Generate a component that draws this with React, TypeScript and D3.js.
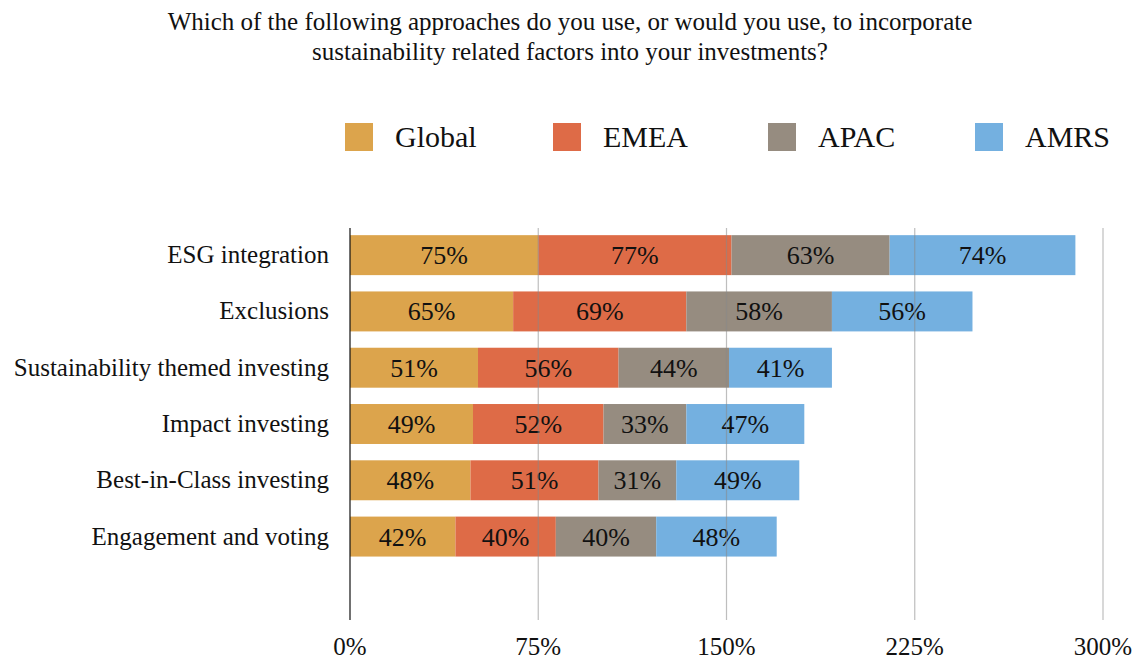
import React from "react";
import * as d3 from "d3";

const categories = [
  "ESG integration",
  "Exclusions",
  "Sustainability themed investing",
  "Impact investing",
  "Best-in-Class investing",
  "Engagement and voting",
];
const seriesNames = ["Global", "EMEA", "APAC", "AMRS"];
const globalVals = [75, 65, 51, 49, 48, 42];
const emeaVals = [77, 69, 56, 52, 51, 40];
const apacVals = [63, 58, 44, 33, 31, 40];
const amrsVals = [74, 56, 41, 47, 49, 48];
const colors = ["#DCA44C", "#DE6B47", "#968C80", "#74B0E0"];
const xTicks = [0, 75, 150, 225, 300];

const W = 1139;
const H = 659;
const FONT = "Liberation Serif, Times New Roman, serif";

export default function App() {
  const series = [globalVals, emeaVals, apacVals, amrsVals];
  const rows = categories.map((c, i) => {
    const r: any = { cat: c };
    seriesNames.forEach((s, k) => (r[s] = series[k][i]));
    return r;
  });
  const stack = d3.stack<any>().keys(seriesNames)(rows);

  const x = d3.scaleLinear().domain([0, 300]).range([350, 1103]);
  const slots = [...categories, "__empty"];
  const y = d3.scaleBand().domain(slots).range([227, 621]).paddingInner(0.29).paddingOuter(0.145);

  const top = 228;
  const bottom = 620;

  const legendX = [345, 553, 768, 975];

  return (
    <svg width={W} height={H} style={{ position: "absolute", left: 0, top: 0, background: "#fff", fontFamily: FONT }}>
      <rect width={W} height={H} fill="#fff" />
      <text x={570} y={30} textAnchor="middle" fontSize={25} fill="#111">
        Which of the following approaches do you use, or would you use, to incorporate
      </text>
      <text x={570} y={60} textAnchor="middle" fontSize={25} fill="#111">
        sustainability related factors into your investments?
      </text>

      {seriesNames.map((s, k) => (
        <g key={s}>
          <rect x={legendX[k]} y={123} width={28} height={28} fill={colors[k]} />
          <text x={legendX[k] + 50} y={147} fontSize={30} fill="#111">
            {s}
          </text>
        </g>
      ))}

      {stack.map((layer, k) => (
        <g key={layer.key}>
          {layer.map((d, i) => {
            const x0 = x(d[0]);
            const x1 = x(d[1]);
            const yy = y(categories[i])!;
            const bh = y.bandwidth();
            return (
              <g key={i}>
                <rect x={x0} y={yy} width={x1 - x0} height={bh} fill={colors[k]} />
                <text
                  x={(x0 + x1) / 2}
                  y={yy + bh / 2 + 9}
                  textAnchor="middle"
                  fontSize={26}
                  fill="#111"
                >
                  {series[k][i]}%
                </text>
              </g>
            );
          })}
        </g>
      ))}

      {xTicks.slice(1).map((t) => (
        <line key={t} x1={x(t)} x2={x(t)} y1={top} y2={bottom} stroke="#888" strokeOpacity={0.55} strokeWidth={1.2} />
      ))}
      <line x1={x(0)} x2={x(0)} y1={top} y2={bottom} stroke="#111" strokeWidth={1.2} />

      {xTicks.map((t) => (
        <text key={t} x={x(t)} y={655} textAnchor="middle" fontSize={25} fill="#111">
          {t}%
        </text>
      ))}

      {categories.map((c) => (
        <text
          key={c}
          x={329}
          y={y(c)! + y.bandwidth() / 2 + 8}
          textAnchor="end"
          fontSize={25}
          fill="#111"
        >
          {c}
        </text>
      ))}
    </svg>
  );
}
